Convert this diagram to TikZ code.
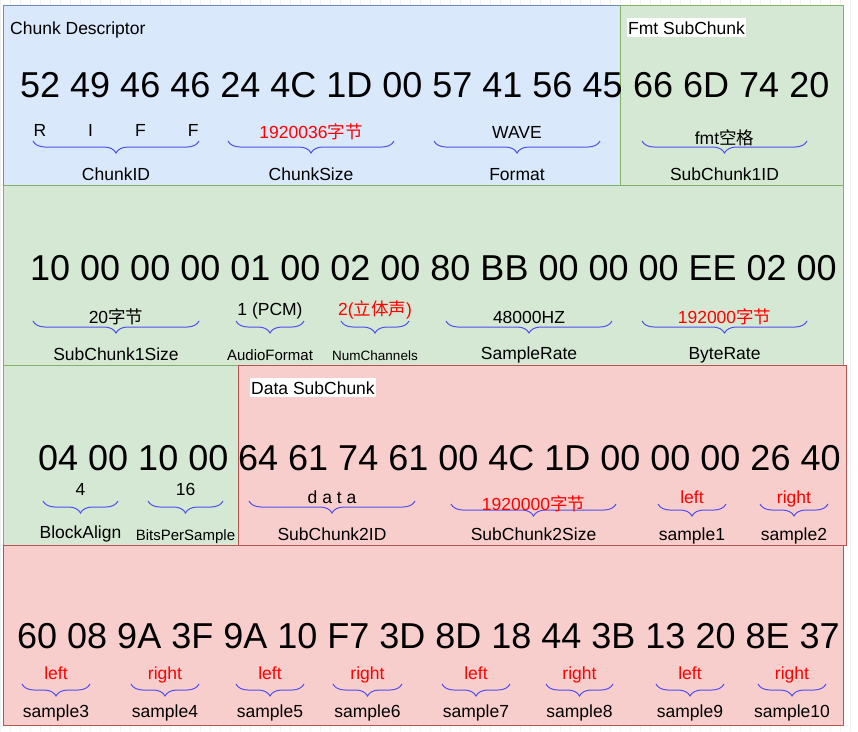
\documentclass[tikz,border=0pt]{standalone}
\usepackage{fontspec}
\setmainfont{Liberation Sans}
\newfontfamily\cjk{Noto Sans CJK SC}
\usepackage{tikz}
\usetikzlibrary{decorations.pathreplacing}
\definecolor{descfill}{HTML}{DAE8FC}
\definecolor{descline}{HTML}{6C8EBF}
\definecolor{fmtfill}{HTML}{D5E8D4}
\definecolor{fmtline}{HTML}{82B366}
\definecolor{datafill}{HTML}{F8CECC}
\definecolor{dataline}{HTML}{B85450}
\definecolor{braceblue}{HTML}{5050F0}
\definecolor{valred}{HTML}{FF0000}
\newcommand\smalltxt{\fontsize{15}{18}\selectfont}
\newcommand\tinytxt{\fontsize{13.5}{16}\selectfont}
\newcommand\wavfield[8]{%
  \coordinate (#1-l) at (#2,#4);
  \coordinate (#1-r) at (#3,#4);
  \draw[fieldbrace] (#1-l) -- (#1-r);
  \node[fieldtext] (#1-val) at ({(#2+#3)/2},#5) {#7};
  \node[fieldtext] (#1-name) at ({(#2+#3)/2},#6) {#8};}

\begin{document}
\begin{tikzpicture}[x=1pt,y=-1pt,
  fieldbrace/.style={draw=braceblue,line width=1pt,decorate,
    decoration={brace,mirror,amplitude=12pt,aspect=0.5}},
  fieldtext/.style={anchor=base,inner sep=0pt,font=\fontsize{17.5}{20}\selectfont},
  hexbytes/.style={anchor=base west,inner sep=0pt,font=\fontsize{36}{40}\selectfont},
  boxtitle/.style={anchor=base west,inner xsep=1pt,inner ysep=3pt,font=\fontsize{17.5}{20}\selectfont}]
  \useasboundingbox (0,0) rectangle (858,731);
  \fill[white] (0,0) rectangle (858,731);
  \draw[black!6,step=10] (0,0) grid (858,731);

  \draw[fill=descfill,draw=descline,line width=1pt] (3,5) rectangle (620,185);
  \draw[fill=fmtfill,draw=fmtline,line width=1pt] (620,5) rectangle (843,185);
  \draw[fill=fmtfill,draw=fmtline,line width=1pt] (3,185) rectangle (843,365);
  \draw[fill=fmtfill,draw=fmtline,line width=1pt] (3,365) rectangle (238,545);
  \draw[fill=datafill,draw=dataline,line width=1pt] (238,365) rectangle (846,545);
  \draw[fill=datafill,draw=dataline,line width=1pt] (3,545) rectangle (843,725);

  \node[boxtitle] (desctitle) at (9,34) {Chunk Descriptor};
  \node[boxtitle,fill=white] (fmttitle) at (627,34) {Fmt SubChunk};
  \node[boxtitle,fill=white] (datatitle) at (250,394) {Data SubChunk};

  \node[hexbytes] (riffbytes) at (20,97) {52 49 46 46 24 4C 1D 00 57 41 56 45};
  \node[hexbytes] (fmtidbytes) at (633,97) {66 6D 74 20};
  \node[hexbytes] (fmtbytes) at (30,280) {10 00 00 00 01 00 02 00 80 BB 00 00 00 EE 02 00};
  \node[hexbytes] (alignbytes) at (38,470) {04 00 10 00};
  \node[hexbytes] (databytes) at (238,470) {64 61 74 61 00 4C 1D 00 00 00 26 40};
  \node[hexbytes] (samplebytes) at (17,648) {60 08 9A 3F 9A 10 F7 3D 8D 18 44 3B 13 20 8E 37};

  \wavfield{chunkid}{33}{199}{141}{136}{180}{R\hspace{42pt}I\hspace{42pt}F\hspace{42pt}F}{ChunkID}
  \wavfield{chunksize}{228}{394}{141}{138}{180}{\color{valred}1920036{\cjk 字节}}{ChunkSize}
  \wavfield{format}{434}{600}{141}{138}{180}{WAVE}{Format}
  \wavfield{sub1id}{642}{807}{141}{144}{180}{fmt{\cjk 空格}}{SubChunk1ID}

  \wavfield{sub1size}{33}{199}{321}{323}{360}{20{\cjk 字节}}{SubChunk1Size}
  \wavfield{audiofmt}{236}{304}{321}{315}{360}{1 (PCM)}{\smalltxt AudioFormat}
  \wavfield{numch}{341}{409}{321}{315}{360}{\color{valred}2({\cjk 立体声})}{\tinytxt NumChannels}
  \wavfield{samplerate}{446}{612}{321}{323}{359}{48000HZ}{SampleRate}
  \wavfield{byterate}{642}{807}{321}{323}{359}{\color{valred}192000{\cjk 字节}}{ByteRate}

  \wavfield{blockalign}{43}{118}{501}{495}{538}{4}{BlockAlign}
  \wavfield{bits}{148}{223}{501}{495}{540}{16}{\smalltxt BitsPerSample}
  \wavfield{sub2id}{249}{415}{501}{503}{540}{d a t a}{SubChunk2ID}
  \wavfield{sub2size}{451}{616}{504}{510}{540}{\color{valred}1920000{\cjk 字节}}{SubChunk2Size}
  \wavfield{sample1}{658}{726}{504}{503}{540}{\color{valred}left}{sample1}
  \wavfield{sample2}{760}{828}{504}{503}{540}{\color{valred}right}{sample2}

  \wavfield{sample3}{22}{90}{684}{679}{717}{\color{valred}left}{sample3}
  \wavfield{sample4}{131}{199}{684}{679}{717}{\color{valred}right}{sample4}
  \wavfield{sample5}{236}{304}{684}{679}{717}{\color{valred}left}{sample5}
  \wavfield{sample6}{333}{402}{684}{679}{717}{\color{valred}right}{sample6}
  \wavfield{sample7}{442}{510}{684}{679}{717}{\color{valred}left}{sample7}
  \wavfield{sample8}{546}{613}{684}{679}{717}{\color{valred}right}{sample8}
  \wavfield{sample9}{656}{724}{684}{679}{717}{\color{valred}left}{sample9}
  \wavfield{sample10}{758}{826}{684}{679}{717}{\color{valred}right}{sample10}
\end{tikzpicture}
\end{document}
